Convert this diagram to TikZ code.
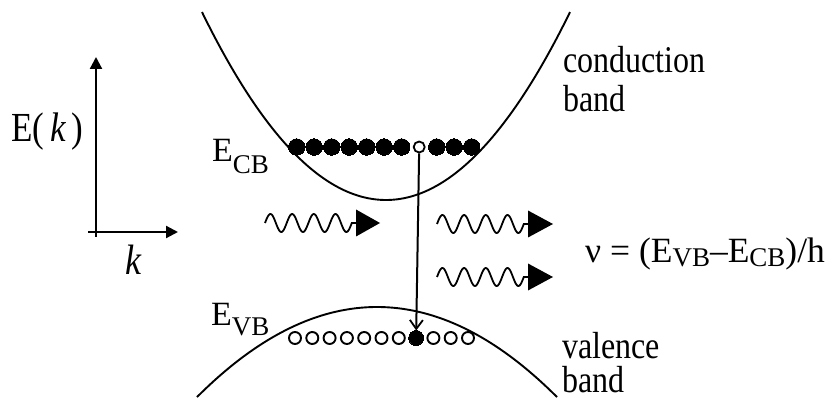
\documentclass[tikz,border=0pt]{standalone}
\usepackage{fontspec}
\setmainfont{Liberation Serif}
\usepackage{graphicx}
\usetikzlibrary{arrows.meta}
\newcommand{\vst}[1]{\scalebox{1}[1.18]{#1}}
\newcommand{\lowsub}[3]{\raisebox{-#1pt}{\fontsize{#2}{#2}\selectfont #3}}
\begin{document}
\begin{tikzpicture}[x=1pt,y=-1pt,
  bandcurve/.style={line width=1.9pt},
  axisline/.style={line width=2.2pt,-{Triangle[length=12pt,width=12pt]}},
  transition/.style={line width=2pt,-{Straight Barb[length=9pt,width=13pt,line width=1.8pt]}},
  wave/.style={line width=1.8pt},
  photonhead/.style={fill=black},
  txt/.style={anchor=base west,inner sep=0pt,font=\fontsize{32}{36}\selectfont},
  elabel/.style={anchor=base west,inner sep=0pt,font=\fontsize{34}{38}\selectfont},
  electron/.style={circle,fill=black,draw=black,line width=0pt,minimum size=16.5pt,inner sep=0pt},
  holecb/.style={circle,fill=white,draw=black,line width=1.8pt,minimum size=11pt,inner sep=0pt},
  holevb/.style={circle,fill=white,draw=black,line width=1.9pt,minimum size=12pt,inner sep=0pt},
  electronvb/.style={circle,fill=black,draw=black,line width=0pt,minimum size=15pt,inner sep=0pt}
]
\useasboundingbox (0,0) rectangle (833,398);

% axes
\coordinate (ybot) at (96,237);
\coordinate (ytip) at (96,57);
\coordinate (xleft) at (88,232);
\coordinate (xtip) at (178,232);
\draw[axisline] (ybot) -- (ytip);
\draw[axisline] (xleft) -- (xtip);
\node[txt,font=\fontsize{35}{40}\selectfont] (Ek) at (11,142) {\vst{E(\,\textit{k}\,)}};
\node[txt,font=\fontsize{36}{40}\selectfont] (klabel) at (125,275) {\vst{\textit{k}}};

% bands
\draw[bandcurve] plot[domain=202:570,samples=120,smooth] (\x,{200-55.5*((\x-386)/100)^2});
\draw[bandcurve] plot[domain=197:557,samples=120,smooth] (\x,{307+27.8*((\x-377)/100)^2});

% conduction band electrons
\foreach \i in {0,...,10}{
  \ifnum\i=7
    \node[holecb] (cb\i) at ({296.7+17.5*\i},147) {};
  \else
    \node[electron] (cb\i) at ({296.7+17.5*\i},147) {};
  \fi
}
% valence band states
\foreach \i in {0,...,10}{
  \ifnum\i=7
    \node[electronvb] (vb\i) at ({295+17.3*\i},338) {};
  \else
    \node[holevb] (vb\i) at ({295+17.3*\i},338) {};
  \fi
}
\draw[transition] (cb7) -- (vb7);

% photons
\draw[wave] plot[domain=265:351.8,samples=120,smooth] (\x,{223-9*sin(16.59*(\x-265))}) -- (357,223);
\fill[photonhead] (356,209.5) -- (380,223) -- (356,236.5) -- cycle;
\draw[wave] plot[domain=437:523.8,samples=120,smooth] (\x,{224-9*sin(16.59*(\x-437))}) -- (529,224);
\fill[photonhead] (528,210.5) -- (553,224) -- (528,237.5) -- cycle;
\draw[wave] plot[domain=437:523.8,samples=120,smooth] (\x,{277-9*sin(16.59*(\x-437))}) -- (529,277);
\fill[photonhead] (528,263.5) -- (553,277) -- (528,290.5) -- cycle;

% labels
\node[txt] (cond) at (563,73) {\vst{conduction}};
\node[txt] (cband) at (563,112) {\vst{band}};
\node[txt] (val) at (562,358) {\vst{valence}};
\node[txt] (vband) at (562,392) {\vst{band}};
\node[elabel] (ECB) at (212,162) {E\lowsub{12}{27}{CB}};
\node[elabel] (EVB) at (211,325) {E\lowsub{10}{27}{VB}};
\node[elabel,font=\fontsize{35.5}{40}\selectfont] (nu) at (585,262) {ν = (E\lowsub{5}{27}{VB}–E\lowsub{5}{27}{CB})/h};
\end{tikzpicture}
\end{document}
